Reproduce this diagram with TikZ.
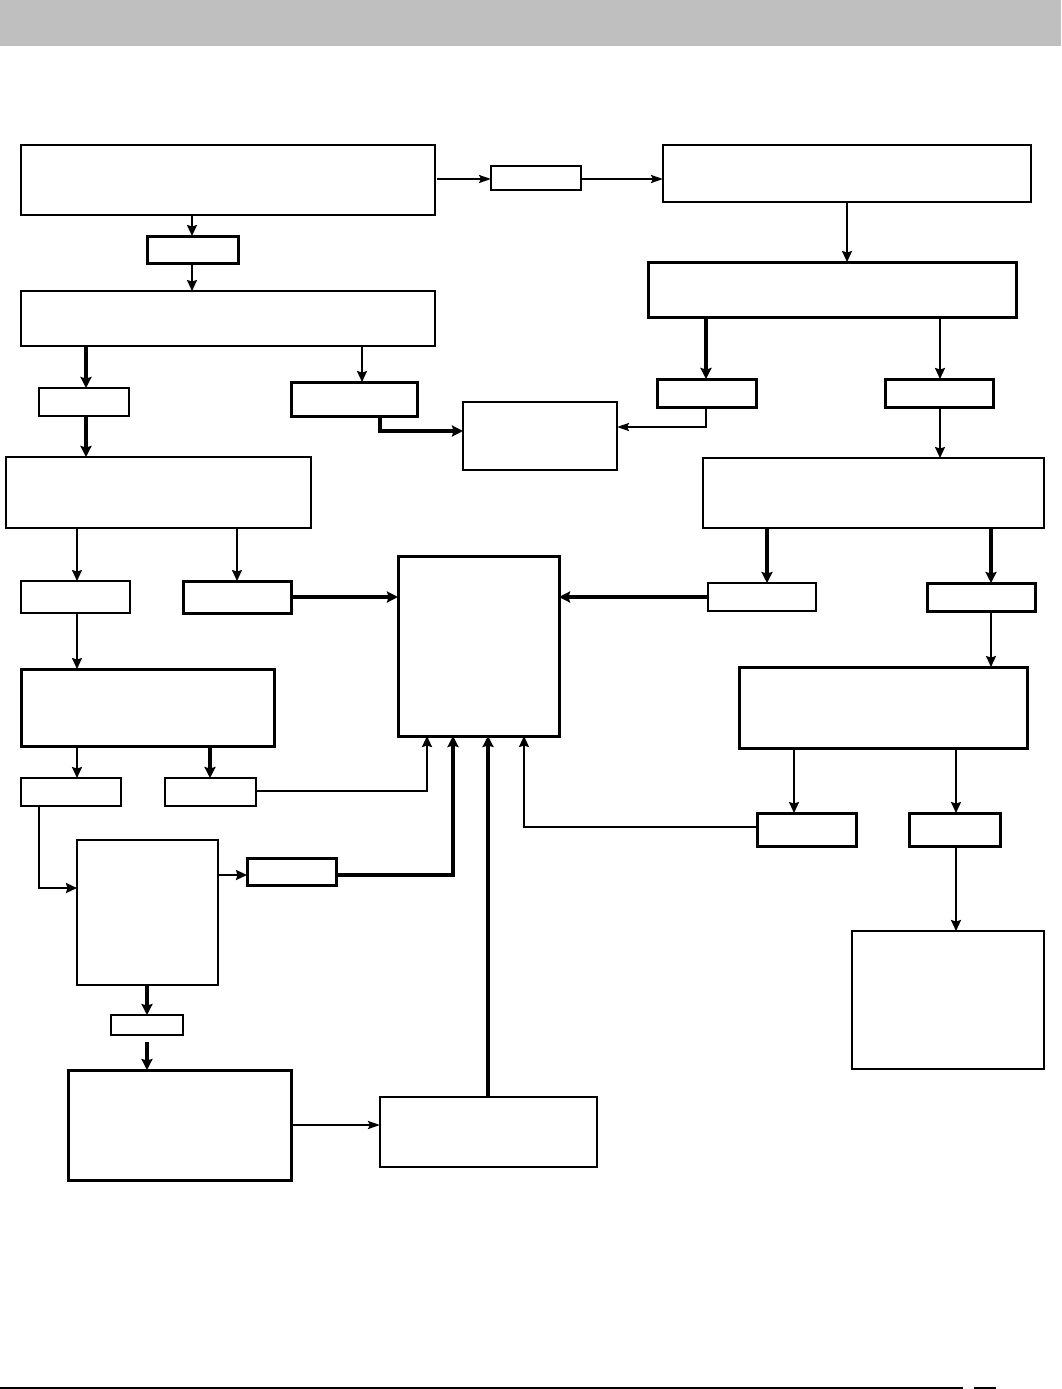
\documentclass[tikz,border=0pt]{standalone}
\usetikzlibrary{arrows.meta,calc}
\newcommand\mkbox[6][]{\node[box,#1,minimum width={(#5-#3)*1pt},minimum height={(#6-#4)*1pt}] (#2) at ({(#3+#5)/2},{(#4+#6)/2}) {};}
\tikzset{
  box/.style={draw,line width=2.2pt,inner sep=0pt,outer sep=0pt},
  tbox/.style={line width=3pt},
  arr/.style={line width=2.1pt,-{Stealth[length=11pt,width=10pt,inset=1.5pt]}},
  tarr/.style={line width=3.2pt,-{Stealth[length=11pt,width=11pt,inset=1.5pt]}},
  narr/.style={line width=2.1pt,-{Stealth[length=12pt,width=8pt,inset=2pt]}},
  ln/.style={line width=2.1pt}
}
\begin{document}
\begin{tikzpicture}[x=1pt,y=-1pt]
\useasboundingbox (0,0) rectangle (1061,1389);
\fill[black!25] (0,0) rectangle (1061,46);
\draw[line width=2.2pt] (0,1388) coordinate (bl1) -- (963,1388) coordinate (bl2);
\draw[line width=2.2pt] (974,1388) coordinate (bl3) -- (996,1388) coordinate (bl4);
% boxes
\mkbox{A}{21}{145}{435}{215}
\mkbox{B}{491}{166}{581}{190}
\mkbox{C}{663}{145}{1031}{202}
\mkbox[tbox]{D}{147}{236}{238}{263}
\mkbox{E}{21}{291}{435}{346}
\mkbox[tbox]{F}{648}{262}{1016}{317}
\mkbox{G}{39}{388}{129}{416}
\mkbox[tbox]{H}{291}{382}{417}{416}
\mkbox{I}{6}{457}{311}{528}
\mkbox{J}{463}{402}{617}{470}
\mkbox[tbox]{K}{657}{379}{756}{407}
\mkbox[tbox]{L}{885}{379}{993}{407}
\mkbox{M}{703}{458}{1044}{528}
\mkbox{N}{21}{581}{130}{613}
\mkbox[tbox]{O}{183}{581}{291}{613}
\mkbox[tbox]{P}{398}{556}{559}{736}
\mkbox{Q}{708}{583}{816}{611}
\mkbox[tbox]{R}{927}{583}{1035}{611}
\mkbox[tbox]{S}{21}{669}{274}{746}
\mkbox[tbox]{T}{739}{667}{1027}{748}
\mkbox{U}{21}{778}{121}{806}
\mkbox{V}{165}{778}{256}{806}
\mkbox[tbox]{W}{757}{813}{856}{846}
\mkbox[tbox]{X}{909}{813}{1000}{846}
\mkbox{Y}{77}{840}{218}{985}
\mkbox[tbox]{Z}{247}{858}{336}{885}
\mkbox{AA}{111}{1015}{183}{1035}
\mkbox[tbox]{AB}{68}{1070}{291}{1180}
\mkbox{AC}{380}{1097}{597}{1167}
\mkbox{AD}{852}{931}{1044}{1069}
% connectors
\draw[narr] ([xshift=2pt]A.east |- 0,179) -- (B.west |- 0,179);
\draw[narr] (B.east |- 0,179) -- (C.west |- 0,179);
\draw[arr] (A.south -| 192,0) -- (D.north -| 192,0);
\draw[arr] (D.south -| 192,0) -- (E.north -| 192,0);
\draw[arr] (C.south -| 847,0) -- (F.north -| 847,0);
\draw[tarr] (E.south -| 86,0) -- (G.north -| 86,0);
\draw[arr] (E.south -| 362,0) -- (H.north -| 362,0);
\draw[tarr] (G.south -| 86,0) -- (I.north -| 86,0);
\draw[tarr] (H.south -| 380,0) |- (J.west |- 0,431);
\draw[tarr] (F.south -| 706,0) -- (K.north -| 706,0);
\draw[arr] (F.south -| 940,0) -- (L.north -| 940,0);
\draw[narr] (K.south -| 706,0) |- (J.east |- 0,427);
\draw[arr] (L.south -| 940,0) -- (M.north -| 940,0);
\draw[arr] (I.south -| 77,0) -- (N.north -| 77,0);
\draw[arr] (I.south -| 237,0) -- (O.north -| 237,0);
\draw[tarr] (O.east |- 0,597) -- (P.west |- 0,597);
\draw[tarr] (Q.west |- 0,597) -- (P.east |- 0,597);
\draw[tarr] (M.south -| 767,0) -- (Q.north -| 767,0);
\draw[tarr] (M.south -| 991,0) -- (R.north -| 991,0);
\draw[arr] (N.south -| 77,0) -- (S.north -| 77,0);
\draw[arr] (R.south -| 991,0) -- (T.north -| 991,0);
\draw[arr] (S.south -| 77,0) -- (U.north -| 77,0);
\draw[tarr] (S.south -| 210,0) -- (V.north -| 210,0);
\draw[arr] (V.east |- 0,791) -| (P.south -| 427,0);
\draw[arr] (T.south -| 794,0) -- (W.north -| 794,0);
\draw[arr] (T.south -| 956,0) -- (X.north -| 956,0);
\draw[arr] (W.west |- 0,827) -| (P.south -| 524,0);
\draw[arr] (U.south -| 39,0) |- (Y.west |- 0,888);
\draw[arr] (Y.east |- 0,875) -- (Z.west |- 0,875);
\draw[tarr] (Z.east |- 0,875) -| (P.south -| 453,0);
\draw[tarr] (Y.south -| 147,0) -- (AA.north -| 147,0);
\draw[tarr] ([yshift=-7pt]AA.south -| 147,0) -- (AB.north -| 147,0);
\draw[narr] (AB.east |- 0,1125) -- (AC.west |- 0,1125);
\draw[tarr] (AC.north -| 488,0) -- (P.south -| 488,0);
\draw[arr] (X.south -| 956,0) -- (AD.north -| 956,0);
\end{tikzpicture}
\end{document}
